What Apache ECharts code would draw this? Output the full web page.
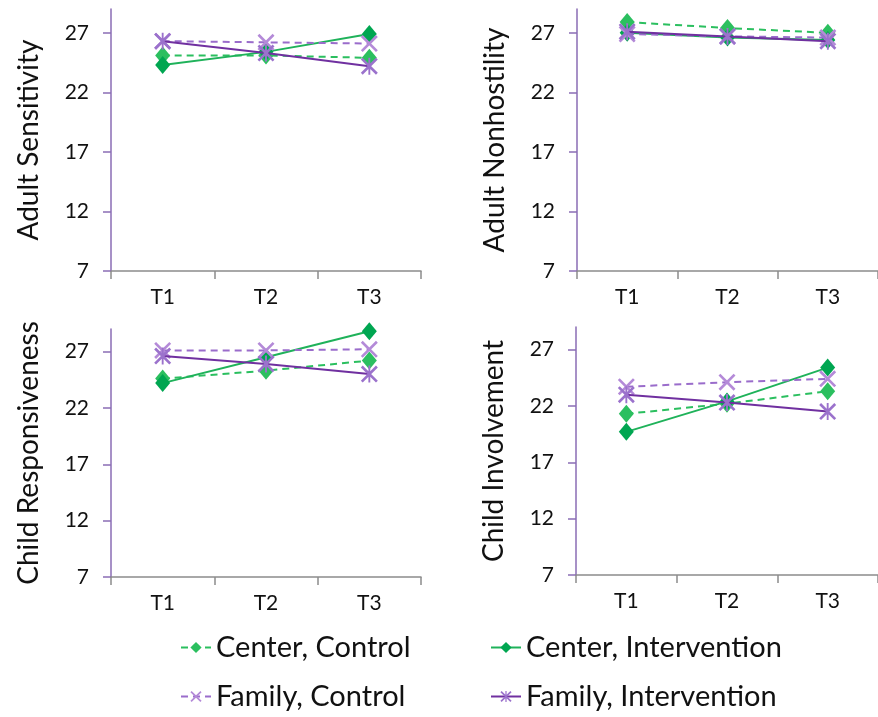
<!DOCTYPE html>
<html>
<head>
<meta charset="utf-8">
<script src="https://cdn.jsdelivr.net/npm/echarts@6/dist/echarts.min.js"></script>
<style>
  html, body { margin: 0; padding: 0; background: #fff; }
  #chart { width: 878px; height: 717px; }
</style>
</head>
<body>
<div id="chart"></div>
<script>
// Measurement occasions and value axis ticks
const periods = ['T1', 'T2', 'T3'];
const yTicks = [7, 12, 17, 22, 27];
const yMin = 7;
const yMax = 29;

// Group names (legend order)
const groupNames = ['Center, Control', 'Center, Intervention', 'Family, Control', 'Family, Intervention'];

// Panel titles
const panelTitles = ['Adult Sensitivity', 'Adult Nonhostility', 'Child Responsiveness', 'Child Involvement'];

// Adult Sensitivity
const sensCenterControl = [25.1, 25.1, 24.9];
const sensCenterIntervention = [24.3, 25.4, 26.9];
const sensFamilyControl = [26.3, 26.2, 26.1];
const sensFamilyIntervention = [26.3, 25.3, 24.2];

// Adult Nonhostility
const nonhCenterControl = [27.9, 27.4, 27.0];
const nonhCenterIntervention = [27.0, 26.6, 26.4];
const nonhFamilyControl = [26.9, 26.7, 26.6];
const nonhFamilyIntervention = [27.1, 26.7, 26.3];

// Child Responsiveness
const respCenterControl = [24.6, 25.3, 26.2];
const respCenterIntervention = [24.2, 26.5, 28.8];
const respFamilyControl = [27.1, 27.1, 27.2];
const respFamilyIntervention = [26.6, 25.9, 25.0];

// Child Involvement
const involvCenterControl = [21.3, 22.2, 23.3];
const involvCenterIntervention = [19.7, 22.4, 25.4];
const involvFamilyControl = [23.7, 24.1, 24.4];
const involvFamilyIntervention = [23.0, 22.3, 21.5];

const panelData = [
  [sensCenterControl, sensCenterIntervention, sensFamilyControl, sensFamilyIntervention],
  [nonhCenterControl, nonhCenterIntervention, nonhFamilyControl, nonhFamilyIntervention],
  [respCenterControl, respCenterIntervention, respFamilyControl, respFamilyIntervention],
  [involvCenterControl, involvCenterIntervention, involvFamilyControl, involvFamilyIntervention]
];

const FONT = 'Lato';
const crossPath = 'path://M0,1.1L1.1,0L10,8.9L8.9,10Z M8.9,0L10,1.1L1.1,10L0,8.9Z';
const starPath = 'path://M0,1.1L1.1,0L10,8.9L8.9,10Z M8.9,0L10,1.1L1.1,10L0,8.9Z M4.45,0L5.55,0L5.55,10L4.45,10Z';

// Visual style per group
const groupStyles = [
  { color: '#2bbf5f', line: '#2bbf5f', type: [7, 5], symbol: 'diamond', size: [15, 18], z: 2 },
  { color: '#00a651', line: '#1fb25a', type: 'solid', symbol: 'diamond', size: [15, 18], z: 3 },
  { color: '#b48ad8', line: '#9a6ccb', type: [7, 5], symbol: crossPath, size: 17, z: 4 },
  { color: '#9b72cc', line: '#7030a0', type: 'solid', symbol: starPath, size: 17, z: 5 }
];

// Plot areas
const grids = [
  { left: 111, top: 9, width: 310, height: 262 },
  { left: 577, top: 9, width: 310, height: 262 },
  { left: 111, top: 329, width: 310, height: 248 },
  { left: 576, top: 327, width: 310, height: 248 }
];

const xAxes = grids.map((g, i) => ({
  type: 'category',
  gridIndex: i,
  data: periods,
  boundaryGap: true,
  axisLine: { lineStyle: { color: '#8c8c8c', width: 1.5 } },
  axisTick: { show: true, length: 8, alignWithLabel: false, lineStyle: { color: '#8c8c8c', width: 1.5 } },
  axisLabel: { margin: 16, fontFamily: FONT, fontSize: 21, color: '#111' },
  splitLine: { show: false }
}));

const yAxes = grids.map((g, i) => ({
  type: 'value',
  gridIndex: i,
  min: yMin,
  max: yMax,
  interval: 5,
  name: panelTitles[i],
  nameLocation: 'middle',
  nameGap: 68,
  nameTextStyle: { fontFamily: FONT, fontSize: 28, color: '#111' },
  axisLine: { show: true, lineStyle: { color: '#8a6db5', width: 1.5 } },
  axisTick: { show: true, length: 8, customValues: yTicks, lineStyle: { color: '#8a6db5', width: 1.5 } },
  axisLabel: { margin: 22, customValues: yTicks, fontFamily: FONT, fontSize: 21, color: '#111' },
  splitLine: { show: false }
}));

const series = [];
panelData.forEach((groups, p) => {
  groups.forEach((values, k) => {
    const st = groupStyles[k];
    series.push({
      name: groupNames[k],
      type: 'line',
      xAxisIndex: p,
      yAxisIndex: p,
      data: values,
      z: st.z,
      symbol: st.symbol,
      symbolSize: st.size,
      showAllSymbol: true,
      itemStyle: { color: st.color, opacity: 1 },
      lineStyle: { color: st.line, width: 2, type: st.type },
      emphasis: { disabled: true },
      animation: false
    });
  });
});

const legendPositions = [
  { left: 180, top: 633 },
  { left: 490, top: 633 },
  { left: 180, top: 682 },
  { left: 490, top: 682 }
];

const legends = groupNames.map((name, k) => ({
  data: [name],
  left: legendPositions[k].left,
  top: legendPositions[k].top,
  padding: 0,
  itemWidth: 30,
  itemHeight: 14,
  itemGap: 0,
  selectedMode: false,
  textStyle: { fontFamily: FONT, fontSize: 29, color: '#111', padding: [0, 0, 0, 0] }
}));

const chart = echarts.init(document.getElementById('chart'), null, { renderer: 'canvas' });
chart.setOption({
  backgroundColor: '#ffffff',
  animation: false,
  grid: grids,
  xAxis: xAxes,
  yAxis: yAxes,
  legend: legends,
  series: series
});
</script>
</body>
</html>
